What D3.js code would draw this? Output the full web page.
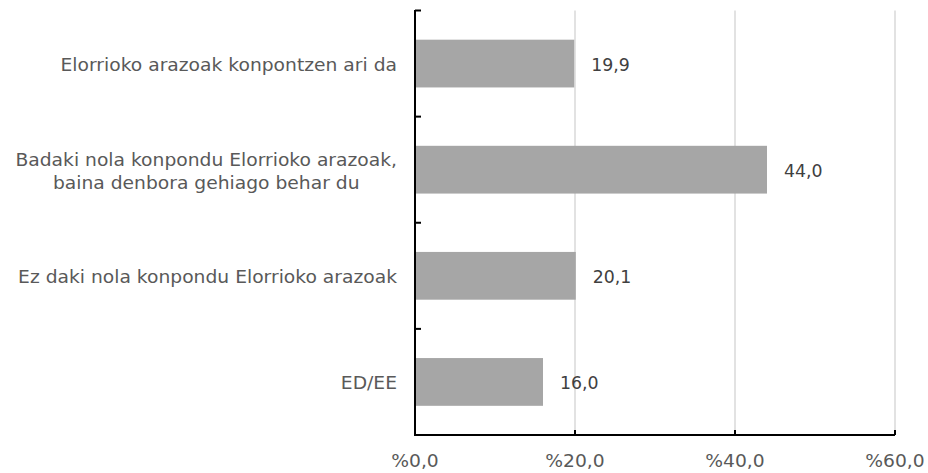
<!DOCTYPE html>
<html>
<head>
<meta charset="utf-8">
<script src="https://cdn.jsdelivr.net/npm/d3@7"></script>
<style>
  html, body { margin: 0; padding: 0; background: #fff; }
  svg { display: block; }
  text { font-family: Verdana, "DejaVu Sans", sans-serif; }
</style>
</head>
<body>
<svg id="chart" width="928" height="473"></svg>
<script>
const categories = [
  ["Elorrioko arazoak konpontzen ari da"],
  ["Badaki nola konpondu Elorrioko arazoak,", "baina denbora gehiago behar du"],
  ["Ez daki nola konpondu Elorrioko arazoak"],
  ["ED/EE"]
];
const values = [19.9, 44.0, 20.1, 16.0];
const xTicks = [0, 20, 40, 60];
const xTickLabels = ["%0,0", "%20,0", "%40,0", "%60,0"];

(function () {
const svg = d3.select("#chart");
const pLeft = 415, pRight = 895, pTop = 10.5, pBottom = 435;
const fs = 17, stretch = 1.1;

function widen(sel, factor) {
  sel.each(function () {
    const w = this.getComputedTextLength();
    d3.select(this).attr("textLength", w * factor).attr("lengthAdjust", "spacingAndGlyphs");
  });
}

const x = d3.scaleLinear().domain([0, 60]).range([pLeft, pRight]);
const keys = categories.map((c, i) => i);
const y = d3.scaleBand().domain(keys).range([pTop, pBottom]).paddingInner(0.55).paddingOuter(0.275);
const step = y.step();

// gridlines
svg.append("g").selectAll("line").data(xTicks.filter(d => d > 0)).join("line")
  .attr("x1", d => x(d)).attr("x2", d => x(d))
  .attr("y1", pTop).attr("y2", pBottom)
  .attr("stroke", "#d9d9d9").attr("stroke-width", 1.5);

// bars
svg.append("g").selectAll("rect").data(values).join("rect")
  .attr("x", x(0))
  .attr("y", (d, i) => y(i))
  .attr("width", d => x(d) - x(0))
  .attr("height", y.bandwidth())
  .attr("fill", "#a6a6a6");

// value labels
const vl = svg.append("g").selectAll("text").data(values).join("text")
  .attr("x", d => x(d) + 17)
  .attr("y", (d, i) => y(i) + y.bandwidth() / 2 + 7)
  .attr("font-size", fs)
  .attr("fill", "#404040")
  .text(d => d.toFixed(1).replace(".", ","));
widen(vl, 1.02);

// category labels
const lineH = 23;
const catG = svg.append("g");
categories.forEach((lines, i) => {
  const cy = y(i) + y.bandwidth() / 2 + 7.5;
  const n = lines.length;
  const g = catG.append("g");
  const texts = lines.map((ln, j) => g.append("text")
    .attr("y", cy + (j - (n - 1) / 2) * lineH)
    .attr("font-size", fs)
    .attr("fill", "#595959")
    .text(ln));
  const widths = texts.map(t => t.node().getComputedTextLength() * stretch);
  texts.forEach((t, j) => t.attr("textLength", widths[j]).attr("lengthAdjust", "spacingAndGlyphs"));
  const maxW = d3.max(widths);
  const center = 397 - maxW / 2;
  texts.forEach(t => t.attr("x", center).attr("text-anchor", "middle"));
});

// y axis line and ticks
svg.append("line")
  .attr("x1", pLeft).attr("x2", pLeft).attr("y1", pTop - 0.5).attr("y2", pBottom)
  .attr("stroke", "#000").attr("stroke-width", 2);
const boundaries = [pTop].concat(keys.map(k => y(k) - (step - y.bandwidth()) / 2 + step));
svg.append("g").selectAll("line").data(boundaries.slice(0, 4)).join("line")
  .attr("x1", pLeft).attr("x2", pLeft + 6)
  .attr("y1", d => d).attr("y2", d => d)
  .attr("stroke", "#000").attr("stroke-width", 2);

// x axis line and ticks
svg.append("line")
  .attr("x1", pLeft - 1).attr("x2", pRight).attr("y1", pBottom).attr("y2", pBottom)
  .attr("stroke", "#000").attr("stroke-width", 2);
svg.append("g").selectAll("line").data(xTicks.filter(d => d > 0)).join("line")
  .attr("x1", d => x(d)).attr("x2", d => x(d))
  .attr("y1", pBottom - 5).attr("y2", pBottom)
  .attr("stroke", "#000").attr("stroke-width", 2);
const tl = svg.append("g").selectAll("text").data(xTicks).join("text")
  .attr("x", d => x(d))
  .attr("y", 467)
  .attr("text-anchor", "middle")
  .attr("font-size", fs)
  .attr("fill", "#595959")
  .text((d, i) => xTickLabels[i]);
widen(tl, 1.1);
})();
</script>
</body>
</html>
